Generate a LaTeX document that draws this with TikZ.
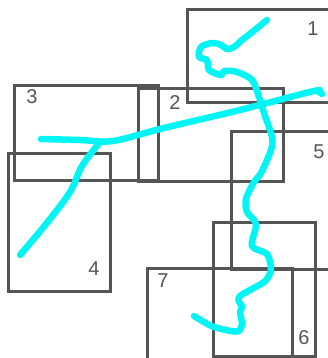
\documentclass[tikz,border=0pt]{standalone}
\usepackage{fontspec}
\setmainfont{Liberation Sans}
\definecolor{boxgray}{HTML}{555555}
\definecolor{pen}{HTML}{00F5F5}
\begin{document}
\begin{tikzpicture}[x=1pt,y=-1pt,
  box/.style={draw=boxgray,line width=3pt,line join=miter},
  lbl/.style={text=boxgray,font=\fontsize{20}{20}\selectfont,inner sep=0pt},
  stroke/.style={draw=pen,line width=6.5pt,line cap=round,line join=round}]
\useasboundingbox (0,0) rectangle (328,358);
\clip (0,0) rectangle (328,358);
% boxes
\draw[box] (187,10) rectangle (340,103);
\draw[box] (138,89) rectangle (283,181);
\draw[box] (14,86) rectangle (158,180);
\draw[box] (8,153) rectangle (110,291);
\draw[box] (231,132) rectangle (340,269);
\draw[box] (213,222) rectangle (315,356);
\draw[box] (147,268) rectangle (292,370);
% labels
\node[lbl] (l1) at (313,29) {1};
\node[lbl] (l2) at (175,103) {2};
\node[lbl] (l3) at (32,97) {3};
\node[lbl] (l4) at (94,269) {4};
\node[lbl] (l5) at (319,152) {5};
\node[lbl] (l6) at (304,338) {6};
\node[lbl] (l7) at (163,281) {7};
% strokes
\draw[stroke] plot[smooth,tension=0.5] coordinates {(41,139) (80,140) (113,141) (164,128) (240,110) (314,91) (319,92) (322,94)};
\draw[stroke] plot[smooth,tension=0.6] coordinates {(100,142) (82,166) (70,192) (46,224) (20,255)};
\draw[stroke] plot[smooth,tension=0.5] coordinates {(267,20) (251,33) (242,40) (234,47) (227,49) (221,45) (212,43) (201,47) (199,57) (207,60) (209,70) (221,75) (224,71) (237,72) (252,80) (259,97) (264,113) (272,137) (271,150) (261,173) (254,182) (246,199) (247,212) (256,224) (252,246) (267,254) (271,269) (267,279) (261,284) (239,297) (242,307) (240,312) (242,324) (239,331) (231,331) (214,327) (204,322) (194,316)};
\end{tikzpicture}
\end{document}
